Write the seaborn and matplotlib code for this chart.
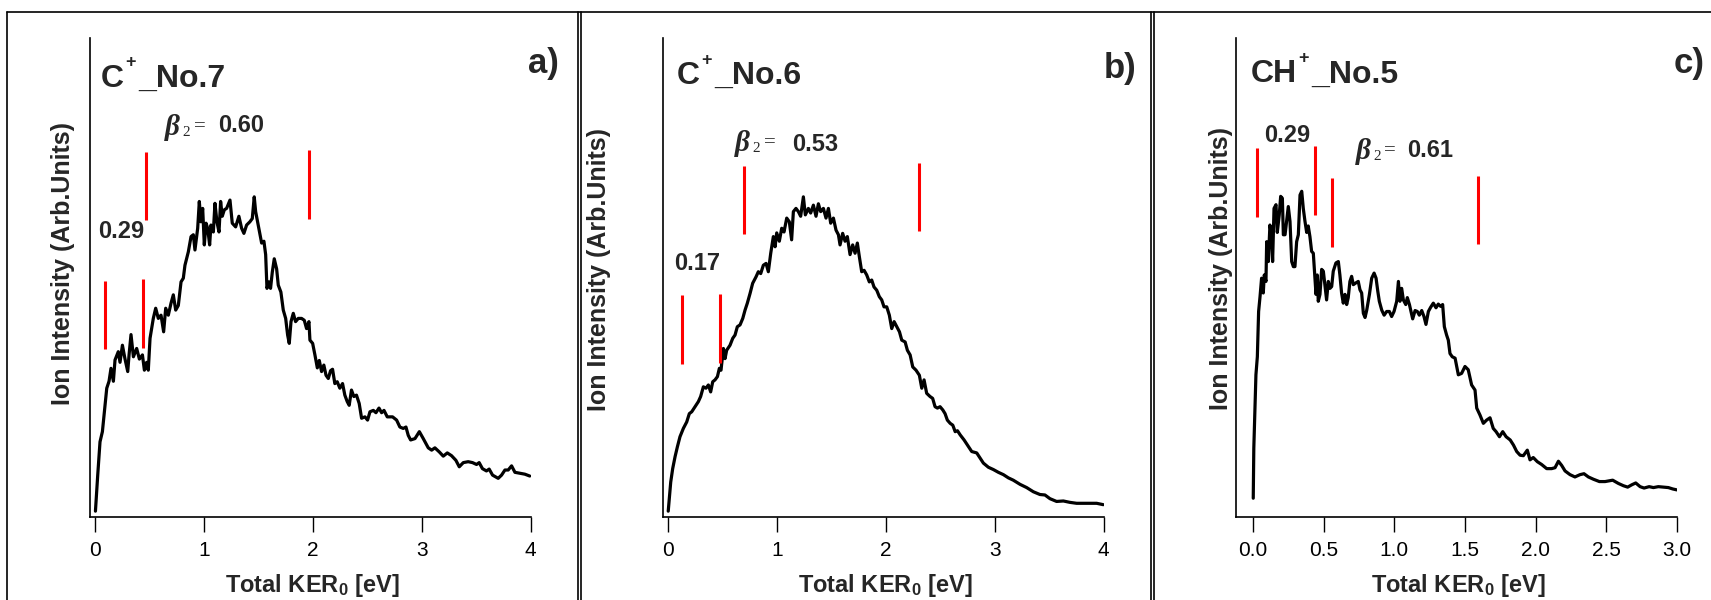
import matplotlib
matplotlib.use("Agg")
import matplotlib.pyplot as plt
import matplotlib.transforms as mtransforms
from matplotlib.lines import Line2D
import numpy as np
import pandas as pd
import seaborn as sns

# ---------------- data (arbitrary intensity units) ----------------
ker_a = [0.0, 0.021, 0.042, 0.064, 0.088, 0.104, 0.125, 0.143, 0.165, 0.18, 0.21, 0.226, 0.248, 0.272,
         0.297, 0.309, 0.327, 0.349, 0.379, 0.404, 0.432, 0.45, 0.471, 0.486, 0.502, 0.532, 0.554, 0.578,
         0.603, 0.627, 0.646, 0.67, 0.695, 0.716, 0.738, 0.762, 0.787, 0.808, 0.823, 0.854, 0.879, 0.9,
         0.915, 0.94, 0.955, 0.97, 0.986, 1.001, 1.017, 1.032, 1.05, 1.062, 1.084, 1.099, 1.117, 1.136,
         1.151, 1.166, 1.185, 1.206, 1.237, 1.258, 1.289, 1.319, 1.344, 1.365, 1.39, 1.42, 1.442, 1.46,
         1.473, 1.491, 1.513, 1.528, 1.549, 1.565, 1.577, 1.595, 1.61, 1.626, 1.644, 1.666, 1.681, 1.705,
         1.727, 1.749, 1.767, 1.782, 1.798, 1.819, 1.84, 1.865, 1.895, 1.92, 1.941, 1.963, 1.972, 1.997,
         2.018, 2.04, 2.058, 2.079, 2.1, 2.12, 2.141, 2.162, 2.18, 2.201, 2.223, 2.247, 2.272, 2.293,
         2.315, 2.333, 2.354, 2.376, 2.4, 2.425, 2.447, 2.478, 2.502, 2.524, 2.555, 2.579, 2.607, 2.631,
         2.653, 2.683, 2.732, 2.769, 2.799, 2.83, 2.855, 2.876, 2.898, 2.938, 2.978, 3.014, 3.06, 3.091,
         3.121, 3.162, 3.198, 3.235, 3.274, 3.314, 3.345, 3.382, 3.427, 3.467, 3.504, 3.528, 3.558,
         3.595, 3.62, 3.651, 3.703, 3.734, 3.765, 3.795, 3.826, 3.857, 3.902, 3.948, 3.993]
int_a = [1.2, 9.0, 16.2, 18.4, 24.1, 27.8, 29.3, 32.1, 29.3, 33.9, 35.7, 33.4, 37.1, 34.1,
         31.4, 35.0, 39.4, 34.6, 36.4, 34.1, 35.0, 31.7, 33.4, 31.7, 38.6, 42.9, 45.1, 42.9,
         43.6, 40.0, 45.1, 43.6, 46.2, 48.0, 44.7, 45.7, 50.8, 51.6, 54.4, 57.3, 60.6, 61.0,
         57.7, 62.4, 68.2, 63.8, 66.7, 58.8, 63.5, 62.4, 58.8, 63.1, 61.6, 67.8, 63.8, 61.6,
         68.2, 65.0, 66.4, 66.7, 68.5, 63.5, 62.7, 65.0, 62.4, 61.3, 63.1, 63.8, 64.5, 69.2,
         66.0, 63.8, 61.0, 59.2, 59.6, 56.7, 49.4, 50.8, 49.4, 52.9, 55.8, 53.6, 50.1, 48.6,
         44.7, 42.9, 39.3, 37.5, 42.2, 44.0, 42.2, 42.9, 42.9, 42.5, 40.7, 42.2, 38.2, 37.5,
         35.0, 32.2, 33.8, 31.4, 32.8, 30.6, 29.9, 31.6, 31.9, 28.8, 29.2, 27.8, 28.8, 26.3,
         24.9, 24.1, 27.4, 26.0, 26.3, 24.5, 21.3, 21.6, 20.9, 22.7, 23.0, 22.5, 23.5, 22.5,
         23.0, 21.6, 21.6, 20.9, 19.4, 19.1, 19.4, 17.6, 16.6, 16.9, 18.4, 16.9, 14.9, 14.4,
         14.9, 14.0, 13.1, 13.8, 13.2, 12.2, 10.8, 11.7, 11.9, 11.7, 11.3, 11.7, 10.4,
         9.9, 10.3, 9.0, 8.3, 9.0, 10.1, 10.1, 11.0, 9.6, 9.4, 9.2, 8.8]

ker_b = [0.0, 0.023, 0.041, 0.063, 0.084, 0.108, 0.139, 0.17, 0.194, 0.216, 0.247, 0.277, 0.298, 0.323,
         0.347, 0.369, 0.39, 0.409, 0.43, 0.452, 0.47, 0.485, 0.507, 0.522, 0.537, 0.568, 0.593, 0.614,
         0.635, 0.66, 0.685, 0.706, 0.727, 0.752, 0.776, 0.807, 0.828, 0.85, 0.874, 0.899, 0.92, 0.942,
         0.966, 0.982, 0.997, 1.021, 1.043, 1.064, 1.089, 1.113, 1.134, 1.15, 1.174, 1.196, 1.217, 1.242,
         1.26, 1.288, 1.309, 1.334, 1.358, 1.38, 1.401, 1.426, 1.45, 1.472, 1.493, 1.518, 1.542, 1.564,
         1.579, 1.603, 1.625, 1.646, 1.671, 1.695, 1.717, 1.738, 1.756, 1.778, 1.8, 1.824, 1.848, 1.87,
         1.891, 1.916, 1.94, 1.962, 1.983, 2.008, 2.032, 2.054, 2.076, 2.1, 2.125, 2.146, 2.177, 2.198,
         2.223, 2.247, 2.277, 2.308, 2.33, 2.351, 2.375, 2.406, 2.43, 2.452, 2.474, 2.498, 2.523, 2.544,
         2.565, 2.591, 2.615, 2.637, 2.658, 2.683, 2.719, 2.758, 2.789, 2.835, 2.866, 2.896, 2.942, 2.988,
         3.034, 3.08, 3.126, 3.171, 3.233, 3.294, 3.355, 3.416, 3.462, 3.508, 3.569, 3.631, 3.692, 3.753,
         3.814, 3.875, 3.937, 3.998]
int_b = [1.2, 7.5, 10.4, 13.0, 15.1, 17.3, 19.1, 20.5, 22.3, 22.7, 23.8, 24.9, 26.0, 28.1,
         27.8, 28.5, 27.0, 29.2, 29.6, 30.3, 32.1, 31.7, 36.4, 34.2, 36.0, 37.1, 38.6, 39.3,
         41.1, 41.5, 42.9, 44.7, 46.2, 48.3, 50.5, 51.9, 53.0, 52.6, 54.4, 54.8, 53.0, 57.0,
         60.6, 58.4, 61.4, 59.6, 62.4, 61.6, 64.6, 63.8, 59.9, 66.0, 66.7, 66.0, 65.0, 69.2,
         65.3, 66.7, 65.7, 67.4, 65.0, 67.7, 66.0, 66.7, 64.6, 66.7, 63.5, 64.6, 62.0, 61.0,
         58.8, 61.3, 59.6, 60.6, 56.7, 58.8, 57.0, 59.2, 56.3, 53.0, 53.3, 52.3, 50.8, 51.2,
         49.7, 49.0, 47.6, 46.9, 45.4, 45.4, 43.6, 40.7, 42.2, 41.1, 40.0, 38.2, 37.8, 36.0,
         35.0, 32.4, 31.7, 30.6, 27.8, 29.6, 26.7, 26.0, 25.6, 23.8, 23.5, 23.8, 23.1, 22.3,
         20.9, 20.2, 19.8, 18.4, 18.6, 17.7, 16.6, 15.2, 14.1, 13.8, 12.7, 11.6, 10.7, 10.2,
         9.6, 9.1, 8.4, 7.9, 7.0, 6.3, 5.4, 4.8, 4.7, 3.9, 3.3, 3.4, 3.1, 2.9,
         2.9, 2.9, 2.9, 2.6]

ker_c = [0.002, 0.006, 0.021, 0.031, 0.04, 0.05, 0.061, 0.073, 0.08, 0.092, 0.097, 0.109, 0.12, 0.132,
         0.139, 0.149, 0.163, 0.172, 0.186, 0.196, 0.208, 0.215, 0.227, 0.238, 0.25, 0.262, 0.274, 0.286,
         0.297, 0.309, 0.321, 0.333, 0.345, 0.356, 0.368, 0.38, 0.391, 0.403, 0.415, 0.427, 0.439, 0.446,
         0.455, 0.462, 0.474, 0.486, 0.498, 0.509, 0.521, 0.533, 0.545, 0.557, 0.568, 0.587, 0.604, 0.615,
         0.627, 0.639, 0.651, 0.663, 0.674, 0.686, 0.698, 0.71, 0.729, 0.745, 0.757, 0.769, 0.781, 0.793,
         0.805, 0.824, 0.84, 0.857, 0.871, 0.883, 0.894, 0.911, 0.928, 0.946, 0.965, 0.981, 0.998, 1.017,
         1.029, 1.04, 1.052, 1.064, 1.081, 1.092, 1.107, 1.118, 1.13, 1.147, 1.163, 1.177, 1.194, 1.21,
         1.224, 1.241, 1.257, 1.276, 1.295, 1.311, 1.328, 1.342, 1.354, 1.37, 1.382, 1.394, 1.41, 1.43,
         1.453, 1.476, 1.5, 1.523, 1.547, 1.571, 1.583, 1.606, 1.63, 1.653, 1.677, 1.7, 1.72, 1.744,
         1.767, 1.791, 1.82, 1.843, 1.866, 1.89, 1.913, 1.941, 1.96, 1.983, 2.012, 2.042, 2.078, 2.113,
         2.137, 2.161, 2.184, 2.208, 2.243, 2.278, 2.314, 2.342, 2.373, 2.409, 2.451, 2.491, 2.545, 2.585,
         2.621, 2.651, 2.68, 2.708, 2.739, 2.767, 2.803, 2.833, 2.868, 2.904, 2.939, 2.97, 2.999]
int_c = [4.0, 14.8, 30.7, 34.6, 44.4, 47.6, 51.6, 48.4, 52.3, 50.9, 59.5, 55.2, 63.1, 61.0,
         55.2, 66.7, 67.5, 61.5, 65.3, 69.3, 68.9, 61.0, 61.0, 63.9, 67.1, 63.9, 55.2, 54.1,
         54.1, 59.5, 61.0, 69.6, 70.4, 66.7, 63.9, 61.5, 62.9, 60.6, 57.4, 57.0, 51.6, 48.1,
         52.3, 46.6, 48.1, 53.5, 53.1, 50.2, 46.9, 50.9, 49.4, 49.8, 53.1, 54.9, 55.2, 52.3,
         48.4, 46.2, 48.1, 45.9, 47.4, 50.9, 52.0, 50.2, 50.6, 50.9, 49.1, 48.4, 44.0, 43.1,
         44.7, 48.1, 51.6, 52.7, 51.6, 48.8, 46.6, 44.7, 43.6, 44.4, 44.4, 43.3, 44.4, 46.6,
         50.9, 46.6, 49.4, 46.9, 45.9, 47.4, 45.9, 44.4, 42.8, 44.6, 44.4, 43.6, 44.6, 43.3,
         41.6, 44.4, 45.3, 46.2, 45.2, 46.0, 45.5, 45.9, 41.1, 39.3, 38.2, 35.3, 34.6, 34.3,
         30.7, 31.0, 32.5, 31.8, 28.5, 27.4, 23.5, 22.0, 20.2, 20.9, 21.4, 19.1, 18.4, 17.3,
         18.4, 17.3, 16.6, 15.5, 14.1, 13.3, 13.2, 14.4, 12.3, 12.8, 11.9, 11.3, 10.4, 10.4,
         10.6, 12.0, 11.1, 9.9, 9.1, 8.6, 9.1, 9.3, 8.6, 8.1, 7.6, 7.6, 7.9, 7.2,
         6.7, 6.4, 6.9, 7.3, 6.5, 6.2, 6.5, 6.3, 6.5, 6.4, 6.3, 6.0, 5.8]

# red marker bars (position in eV, lower / upper intensity)
bar_x_a = [0.088, 0.44, 0.465, 1.965]
bar_lo_a = [36.3, 36.6, 64.2, 64.5]
bar_hi_a = [51.0, 51.4, 79.0, 79.4]
bar_x_b = [0.124, 0.476, 0.697, 2.308]
bar_lo_b = [33.1, 33.3, 61.2, 61.8]
bar_hi_b = [47.9, 48.2, 75.9, 76.6]
bar_x_c = [0.026, 0.44, 0.556, 1.594]
bar_lo_c = [64.9, 65.2, 58.3, 59.0]
bar_hi_c = [79.7, 80.1, 73.2, 73.8]

title_ions = ["C", "C", "CH"]
title_nums = ["_No.7", "_No.6", "_No.5"]
panel_tags = ["a)", "b)", "c)"]
beta_values = ["0.60", "0.53", "0.61"]
low_values = ["0.29", "0.17", "0.29"]
ticks_ab = [0, 1, 2, 3, 4]
ticklabels_ab = ["0", "1", "2", "3", "4"]
ticks_c = [0.0, 0.5, 1.0, 1.5, 2.0, 2.5, 3.0]
ticklabels_c = ["0.0", "0.5", "1.0", "1.5", "2.0", "2.5", "3.0"]

# ---------------- style ----------------
sns.set_theme(style="white")
plt.rcParams['font.family'] = ['Liberation Sans', 'DejaVu Sans']
plt.rcParams['mathtext.fontset'] = 'custom'
plt.rcParams['mathtext.rm'] = 'Liberation Sans:bold'
plt.rcParams['mathtext.bf'] = 'Liberation Sans:bold'
plt.rcParams['mathtext.it'] = 'Liberation Sans:italic:bold'

W, H = 1711, 600
fig = plt.figure(figsize=(W / 100, H / 100), dpi=100)
fig.patch.set_facecolor('white')


def px_axes(l, r, b, t):
    return fig.add_axes([l / W, 1 - b / H, (r - l) / W, (b - t) / H])


def fig_line(x1, y1, x2, y2, lw=1.2, color='black'):
    fig.add_artist(Line2D([x1 / W, x2 / W], [1 - y1 / H, 1 - y2 / H],
                          transform=fig.transFigure, color=color, lw=lw))


# panel frames
fig_line(7, 12, 1711, 12)
for xv in [7, 577.5, 580.5, 1150.5, 1153.5]:
    fig_line(xv, 12, xv, 600)

panels = [
    dict(ker=ker_a, inten=int_a, bx=bar_x_a, blo=bar_lo_a, bhi=bar_hi_a,
         box=(90, 530.5), xlim=(-0.05, 4.0), ticks=ticks_ab, tl=ticklabels_ab,
         title_xy=(0.048, 94.8), tag_xy=(0.995, 0.948),
         low_xy=(0.024, 61.7), beta_xy=(0.643, 84.3), betaval_xy=(1.13, 84.7),
         ylab_xy=(-0.061, 0.530)),
    dict(ker=ker_b, inten=int_b, bx=bar_x_b, blo=bar_lo_b, bhi=bar_hi_b,
         box=(663, 1103.5), xlim=(-0.048, 4.0), ticks=ticks_ab, tl=ticklabels_ab,
         title_xy=(0.078, 95.3), tag_xy=(1.0, 0.936),
         low_xy=(0.054, 54.7), beta_xy=(0.616, 80.8), betaval_xy=(1.142, 80.6),
         ylab_xy=(-0.145, 0.516)),
    dict(ker=ker_c, inten=int_c, bx=bar_x_c, blo=bar_lo_c, bhi=bar_hi_c,
         box=(1236, 1677), xlim=(-0.12, 3.0), ticks=ticks_c, tl=ticklabels_c,
         title_xy=(-0.015, 95.7), tag_xy=(0.993, 0.948),
         low_xy=(0.076, 82.4), beta_xy=(0.727, 79.1), betaval_xy=(1.089, 79.3),
         ylab_xy=(-0.033, 0.519)),
]

for i, p in enumerate(panels):
    ax = px_axes(p['box'][0], p['box'][1], 516.7, 38.3)
    ax.set_facecolor('white')
    df = pd.DataFrame({'ker': p['ker'], 'intensity': p['inten']})
    sns.lineplot(data=df, x='ker', y='intensity', ax=ax, color='black', lw=2.3,
                 sort=False, estimator=None, legend=False)
    ax.vlines(p['bx'], p['blo'], p['bhi'], colors='#ff0000', lw=2.2)
    ax.set_xlim(*p['xlim'])
    ax.set_ylim(0, 103.5)
    for s in ['top', 'right']:
        ax.spines[s].set_visible(False)
    for s in ['left', 'bottom']:
        ax.spines[s].set_color('black')
        ax.spines[s].set_linewidth(1.2)
    ax.set_yticks([])
    ax.set_xticks(p['ticks'])
    ax.set_xticklabels(p['tl'])
    ax.tick_params(axis='x', direction='out', length=10.5, width=1.0, pad=7,
                   labelsize=15, colors='black', bottom=True)
    ax.grid(False)

    ax.set_xlabel("Total KER$_{\\mathbf{0}}$ [eV]", fontsize=17, fontweight='bold',
                  va='center')
    ax.xaxis.set_label_coords(0.505, -0.144)
    ax.set_ylabel("Ion Intensity (Arb.Units)", fontsize=18, fontweight='bold', va='center')
    ax.yaxis.set_label_coords(*p['ylab_xy'])

    # title: ion, raised "+", then "_No.x"
    t_ion = ax.text(p['title_xy'][0], p['title_xy'][1], title_ions[i], fontsize=23,
                    fontweight='bold', ha='left', va='center')
    ax.annotate("+", xy=(1, 1), xycoords=t_ion, xytext=(1.0, 0.5),
                textcoords='offset points', fontsize=13, fontweight='bold',
                ha='left', va='center')
    ax.annotate(title_nums[i], xy=(1, 0), xycoords=t_ion, xytext=(10.5, 0),
                textcoords='offset points', fontsize=23, fontweight='bold',
                ha='left', va='bottom')

    ax.text(p['tag_xy'][0], p['tag_xy'][1], panel_tags[i], transform=ax.transAxes,
            fontsize=25, fontweight='bold', ha='left', va='center', clip_on=False)
    ax.text(p['low_xy'][0], p['low_xy'][1], low_values[i], fontsize=17,
            fontweight='bold', ha='left', va='center')
    # beta_2 = value
    bx, by = p['beta_xy']
    ax.text(bx, by, "\u03b2", fontsize=21, family='Liberation Serif', style='italic',
            fontweight='bold', ha='left', va='center')
    t2 = mtransforms.offset_copy(ax.transData, fig=fig, x=12.5, y=-4.0, units='points')
    ax.text(bx, by, "2", transform=t2, fontsize=11, family='Liberation Serif',
            ha='left', va='center')
    t3 = mtransforms.offset_copy(ax.transData, fig=fig, x=20.6, y=0.5, units='points')
    ax.text(bx, by, "=", transform=t3, fontsize=15, family='Liberation Serif',
            ha='left', va='center')
    ax.text(p['betaval_xy'][0], p['betaval_xy'][1], beta_values[i], fontsize=17,
            fontweight='bold', ha='left', va='center')

fig.savefig("out.png", dpi=100, facecolor='white')
